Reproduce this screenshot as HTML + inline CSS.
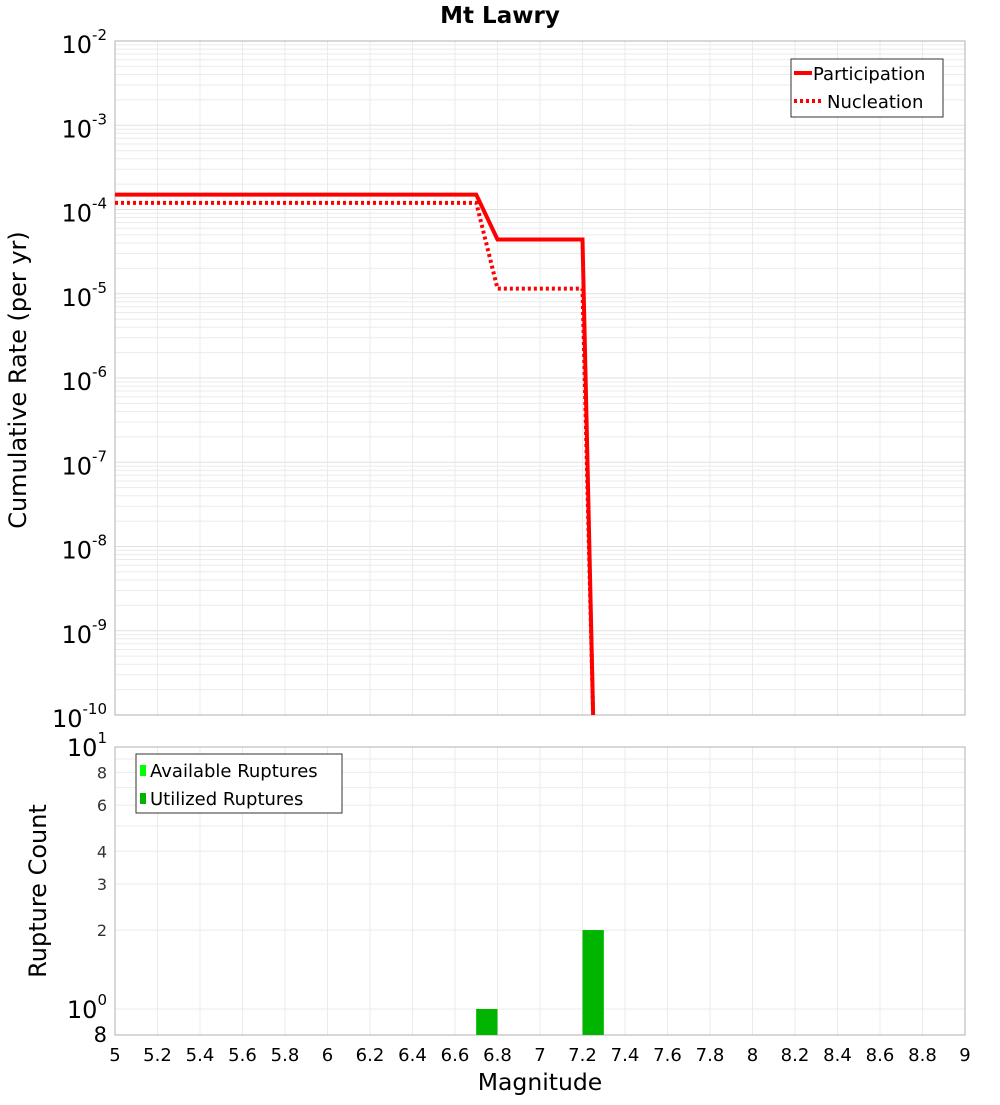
<!DOCTYPE html>
<html><head><meta charset="utf-8"><style>
body{margin:0;background:#fff;width:1000px;height:1100px;overflow:hidden}
svg{font-family:"DejaVu Sans","Liberation Sans",sans-serif}
</style></head><body>
<svg id="c" width="1000" height="1100">
<text x="500" y="23" text-anchor="middle" font-size="23" font-weight="bold">Mt Lawry</text>
<g id="topPlot"></g>
<g id="botPlot"></g>
<text transform="translate(26,380) rotate(-90)" text-anchor="middle" font-size="24">Cumulative Rate (per yr)</text>
<text transform="translate(46,891) rotate(-90)" text-anchor="middle" font-size="24">Rupture Count</text>
<text x="540" y="1090" text-anchor="middle" font-size="23.5">Magnitude</text>
</svg>
<script>
const xTicks=[5,5.2,5.4,5.6,5.8,6,6.2,6.4,6.6,6.8,7,7.2,7.4,7.6,7.8,8,8.2,8.4,8.6,8.8,9];
const rateExps=[-2,-3,-4,-5,-6,-7,-8,-9,-10];
const partMags=[5,6.7,6.8,7.2,7.25];
const partRates=[1.5e-4,1.5e-4,4.4e-5,4.4e-5,1e-10];
const nuclMags=[5,6.7,6.8,7.2,7.25];
const nuclRates=[1.2e-4,1.2e-4,1.15e-5,1.15e-5,1e-10];
const barMags=[6.75,7.25];
const utilCounts=[1,2];
const availCounts=[1,2];
const countTicks=[8,6,4,3,2];
const NS="http://www.w3.org/2000/svg";
const X0=115,X1=965;
const sx=m=>X0+(m-5)/4*(X1-X0);
const T0=41,T1=715;
const sy=v=>T0+(-2-Math.log10(v))/8*(T1-T0);
const B0=747,B1=1035;
const by=v=>B0+(1-Math.log10(v))*262;
function mk(p,t,a,txt){const e=document.createElementNS(NS,t);for(const k in a)e.setAttribute(k,a[k]);if(txt!=null)e.textContent=txt;p.appendChild(e);return e;}
const topG=document.getElementById('topPlot'),botG=document.getElementById('botPlot');
for(let e=-10;e<-2;e++)for(let k=2;k<10;k++){const y=sy(k*Math.pow(10,e));
const g=mk(topG,'line',{x1:X0,x2:X1,y1:y,y2:y,stroke:'#ebebeb','stroke-width':1});

}
rateExps.forEach(e=>{const y=sy(Math.pow(10,e));
const g=mk(topG,'line',{x1:X0,x2:X1,y1:y,y2:y,stroke:'#e0e0e0'});


const t=mk(topG,'text',{x:107,y:y+12,'text-anchor':'end','font-size':24});


t.innerHTML='10<tspan dy="-13" font-size="15">'+e+'</tspan>';});
xTicks.forEach(m=>{const x=sx(m);
const g=mk(topG,'line',{x1:x,x2:x,y1:T0,y2:T1,stroke:'#ebebeb'});


const g2=mk(botG,'line',{x1:x,x2:x,y1:B0,y2:B1,stroke:'#ebebeb'});


const t=mk(botG,'text',{x:x,y:1061,'text-anchor':'middle','font-size':18},String(m));

});
const f1=mk(topG,'rect',{x:X0,y:T0,width:X1-X0,height:T1-T0,fill:'none',stroke:'#b0b0b0'});


const pl=mk(topG,'polyline',{points:partMags.map((m,i)=>sx(m)+','+sy(partRates[i])).join(' '),fill:'none',stroke:'#ff0000','stroke-width':4});


const nl=mk(topG,'polyline',{points:nuclMags.map((m,i)=>sx(m)+','+sy(nuclRates[i])).join(' '),fill:'none',stroke:'#ff0000','stroke-width':4,'stroke-dasharray':'3,3'});


const lg=mk(topG,'g',{});


mk(lg,'rect',{x:791,y:59,width:152,height:58,fill:'#fff',stroke:'#333'});
mk(lg,'line',{x1:794,x2:812,y1:73,y2:73,stroke:'#f00','stroke-width':4});
mk(lg,'text',{x:813,y:80,'font-size':18},'Participation');
mk(lg,'line',{x1:794,x2:824,y1:101,y2:101,stroke:'#f00','stroke-width':4,'stroke-dasharray':'3,3'});
mk(lg,'text',{x:827,y:108,'font-size':18},'Nucleation');
[1,2,3,4,5,6,7,8,9,10].forEach(v=>{const y=by(v);
const g=mk(botG,'line',{x1:X0,x2:X1,y1:y,y2:y,stroke:'#ebebeb'});

});
const f2=mk(botG,'rect',{x:X0,y:B0,width:X1-X0,height:B1-B0,fill:'none',stroke:'#b0b0b0'});


countTicks.forEach(v=>{const t=mk(botG,'text',{x:107,y:by(v)+6,'text-anchor':'end','font-size':16,fill:'#333'},String(v));

});
let t1=mk(botG,'text',{x:107,y:by(10)+9,'text-anchor':'end','font-size':24});


t1.innerHTML='10<tspan dy="-13" font-size="15">1</tspan>';
let t2=mk(botG,'text',{x:107,y:by(1)+9,'text-anchor':'end','font-size':24});


t2.innerHTML='10<tspan dy="-13" font-size="15">0</tspan>';
let t3=mk(botG,'text',{x:107,y:1042,'text-anchor':'end','font-size':21},'8');


const w=sx(5.1)-sx(5);
barMags.forEach((m,i)=>{const ya=by(availCounts[i]);
const a=mk(botG,'rect',{x:sx(m)-w/2,y:ya,width:w,height:B1-ya,fill:'#00ff00'});


const yu=by(utilCounts[i]);
const u=mk(botG,'rect',{x:sx(m)-w/2,y:yu,width:w,height:B1-yu,fill:'#00b400'});

});
const lb=mk(botG,'g',{});


mk(lb,'rect',{x:136,y:754,width:206,height:59,fill:'#fff',stroke:'#333'});
mk(lb,'rect',{x:140,y:765,width:6,height:11,fill:'#00ff00'});
mk(lb,'text',{x:150,y:777,'font-size':18},'Available Ruptures');
mk(lb,'rect',{x:140,y:793,width:6,height:11,fill:'#00b400'});
mk(lb,'text',{x:150,y:805,'font-size':18},'Utilized Ruptures');
</script>
</body></html>
